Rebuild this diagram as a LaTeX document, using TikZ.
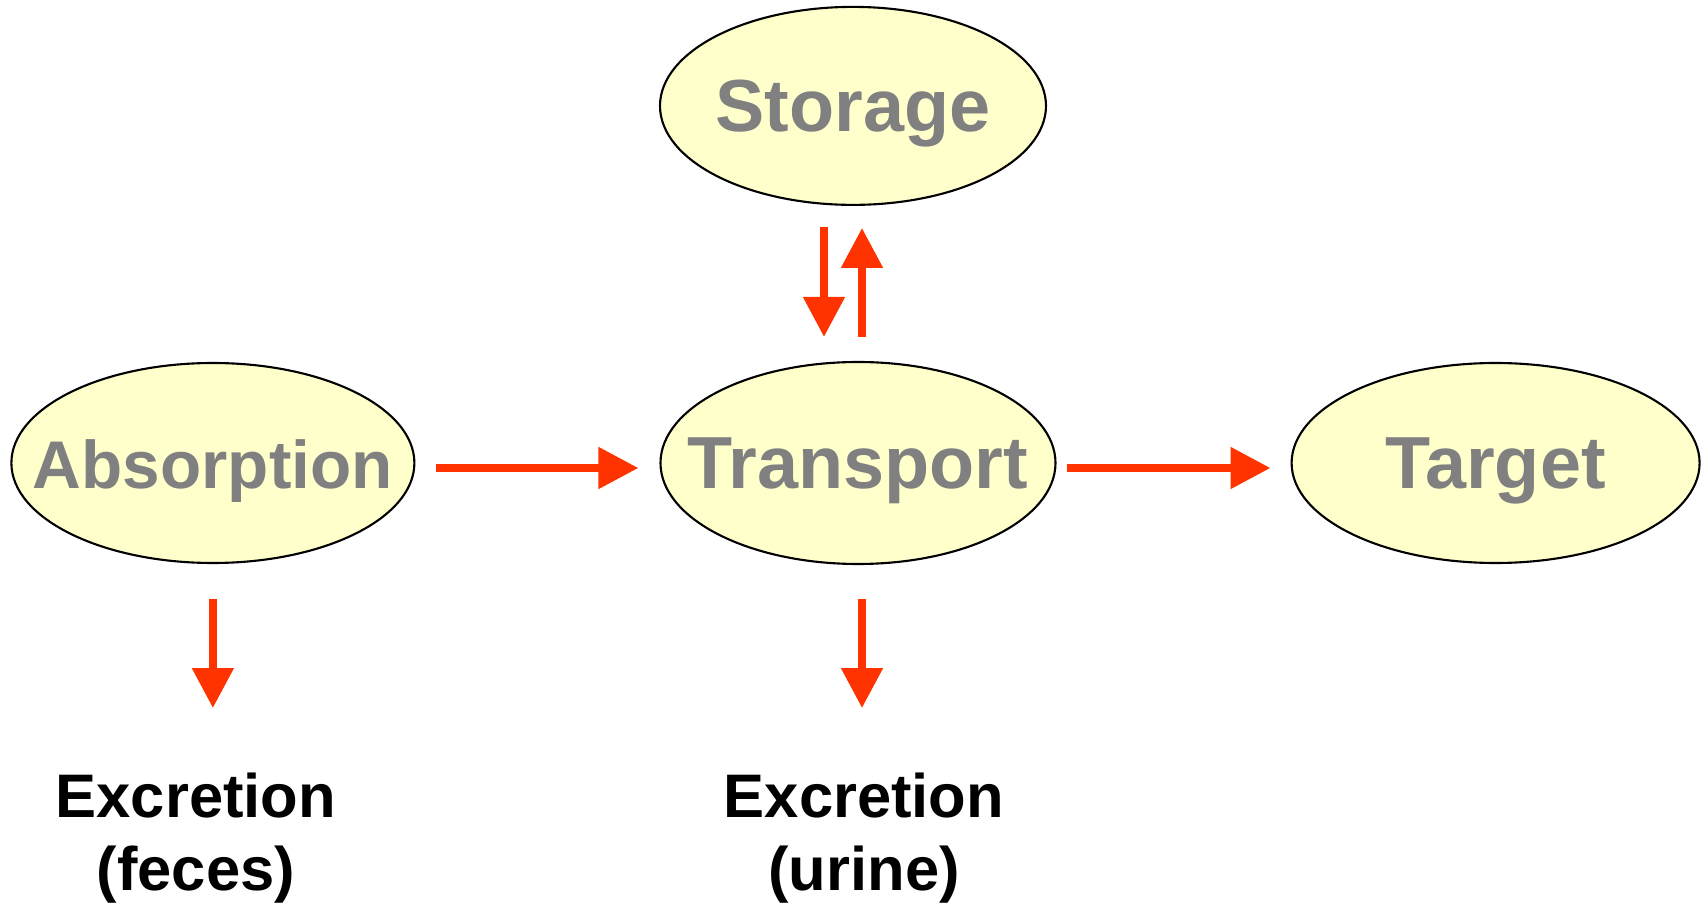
\documentclass[tikz,border=0pt]{standalone}
\usepackage{fontspec}
\setmainfont{Liberation Sans}
\usepackage{tikz}
\usetikzlibrary{arrows.meta}
\usetikzlibrary{shapes, positioning, calc}
\definecolor{flowred}{HTML}{FF3300}
\definecolor{pale}{HTML}{FFFFCC}
\definecolor{labelgray}{HTML}{808080}

\begin{document}
\begin{tikzpicture}[align=center,
  flow/.style={-{Triangle[length=0.4cm,width=0.4cm]}, color=flowred, line width=0.08cm},
  main node/.style={ellipse, draw, fill=pale, line width=0.6pt, inner xsep=-2cm, inner ysep=0pt,
    text height=0.52cm, text depth=0cm,
    minimum height=2cm, text=labelgray, font=\fontsize{21}{24}\selectfont\bfseries},
  out node/.style={inner sep=0pt, font=\fontsize{17.5}{20.7}\selectfont\bfseries}]
  \useasboundingbox (0,0) rectangle (17.05,-9.04);
  \node[main node, minimum width=3.95cm, minimum height=2.02cm] (2) at (8.58,-4.63) {Transport};
  \node[main node, minimum width=4.03cm, left=2.44cm of 2, font=\fontsize{19.2}{24}\selectfont\bfseries] (1) {Absorption};
  \node[main node, minimum width=4.08cm, right=2.34cm of 2] (3) {Target};
  \node[main node, minimum width=3.86cm, minimum height=1.98cm, above=1.55cm of 2, xshift=-0.05cm] (4) {Storage};
  \node[out node, below=2.08cm of 1, xshift=-0.17cm] (5) {Excretion\\(feces)};
  \node[out node, below=2.07cm of 2, xshift=0.06cm] (6) {Excretion\\(urine)};
  % main line
  \draw[flow, shorten <=0.21cm, shorten >=0.21cm] ([yshift=-0.05cm]1.east) -- ([yshift=-0.05cm]2.west);
  \draw[flow, shorten <=0.10cm, shorten >=0.20cm] ([yshift=-0.05cm]2.east) -- ([yshift=-0.05cm]3.west);
  % storage in and out
  \draw[flow, shorten <=0.21cm, shorten >=0.24cm] ($(4.south)+(-0.29,0)$) -- ($(4.south |- 2.north)+(-0.29,0)$);
  \draw[flow, shorten <=0.24cm, shorten >=0.22cm] ($(4.south |- 2.north)+(0.09,0)$) -- ($(4.south)+(0.09,0)$);
  % excretion
  \draw[flow, shorten <=0.35cm, shorten >=0.64cm] (1.south) -- (1.south |- 5.north);
  \draw[flow, shorten <=0.34cm, shorten >=0.64cm] ($(2.south)+(0.04,0)$) -- ($(2.south |- 6.north)+(0.04,0)$);
\end{tikzpicture}
\end{document}
